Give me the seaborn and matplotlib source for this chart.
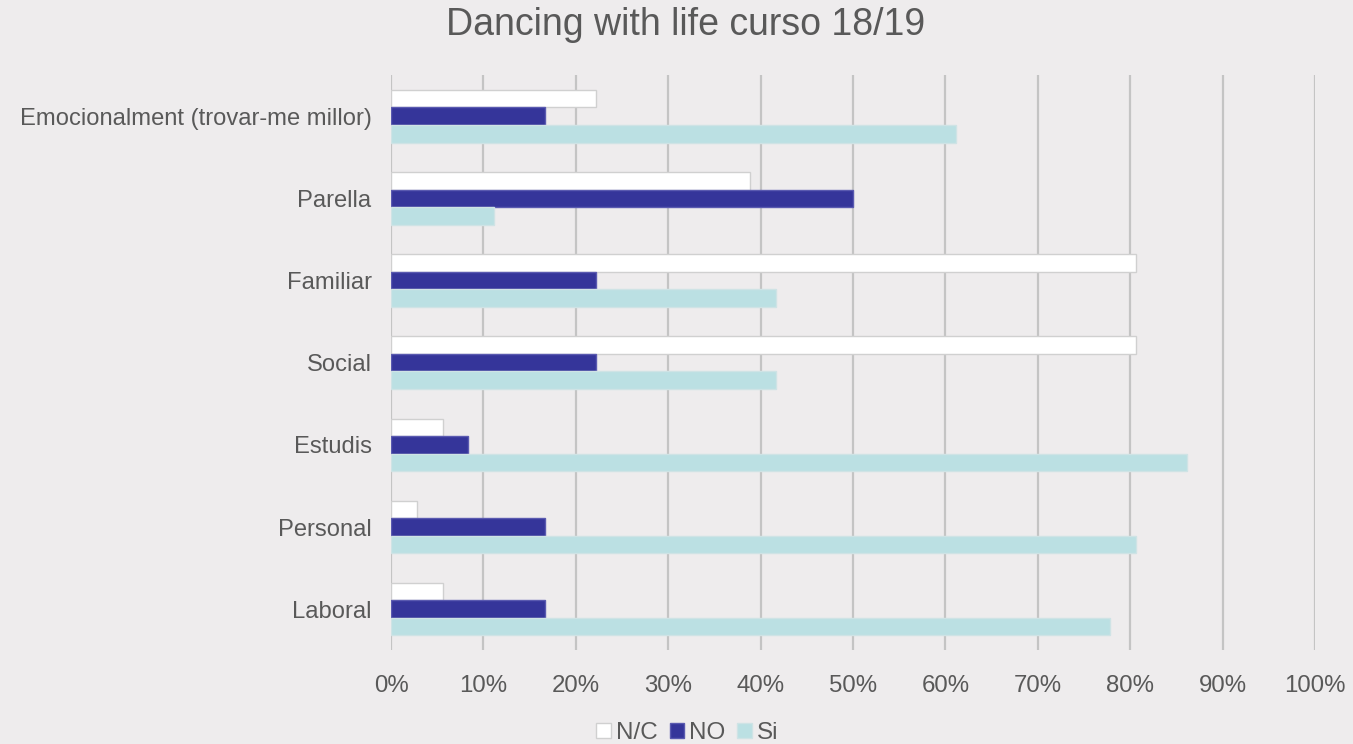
import matplotlib
matplotlib.use("Agg")
import matplotlib.pyplot as plt
import seaborn as sns
import pandas as pd
from matplotlib.patches import Patch
from matplotlib.ticker import PercentFormatter

categories = ["Emocionalment (trovar-me millor)", "Parella", "Familiar", "Social",
              "Estudis", "Personal", "Laboral"]
nc_values = [22.2, 38.9, 80.6, 80.6, 5.6, 2.8, 5.6]
no_values = [16.7, 50.0, 22.2, 22.2, 8.3, 16.7, 16.7]
si_values = [61.1, 11.1, 41.7, 41.7, 86.1, 80.6, 77.8]
series = ["N/C", "NO", "Si"]
colors = ["#FFFFFF", "#35359A", "#BBE0E3"]
edges = ["#D0D0D0", "#5A5AB0", "#CFE3E5"]

rows = []
for c, a, b, s in zip(categories, nc_values, no_values, si_values):
    rows.append((c, "N/C", a))
    rows.append((c, "NO", b))
    rows.append((c, "Si", s))
df = pd.DataFrame(rows, columns=["cat", "series", "value"])

sns.set_style("white")
plt.rcParams["font.family"] = ["Liberation Sans", "DejaVu Sans"]
bg = "#EEECED"
fig = plt.figure(figsize=(13.53, 7.44), dpi=100, facecolor=bg)
ax = fig.add_axes([0.289, 0.126, 0.683, 0.773], facecolor=bg)

sns.barplot(data=df, y="cat", x="value", hue="series", order=categories,
            hue_order=series, palette=colors, orient="h", width=0.64,
            ax=ax, legend=False, saturation=1)

for i, cont in enumerate(ax.containers):
    for p in cont:
        p.set_edgecolor(edges[i])
        p.set_linewidth(1.0)

ax.set_xlim(0, 100)
ax.set_ylim(len(categories) - 0.5, -0.5)
ax.set_xticks(range(0, 101, 10))
ax.xaxis.set_major_formatter(PercentFormatter(decimals=0))
ax.grid(axis="x", color="#C4C4C4", linewidth=1.6)
ax.grid(axis="y", visible=False)
ax.set_axisbelow(True)
for sp in ax.spines.values():
    sp.set_visible(False)
ax.set_xlabel("")
ax.set_ylabel("")
ax.tick_params(axis="both", length=0, labelsize=17.3, labelcolor="#595959")
ax.tick_params(axis="x", pad=18)
ax.tick_params(axis="y", labelsize=17.1, pad=14)

fig.suptitle("Dancing with life curso 18/19", x=0.507, y=0.99, fontsize=27,
             color="#595959")

handles = [Patch(facecolor=c, edgecolor=e, label=s) for c, e, s in zip(colors, edges, series)]
fig.legend(handles=handles, loc="center", bbox_to_anchor=(0.508, 0.015), ncol=3,
           frameon=False, fontsize=17.5, labelcolor="#595959", handlelength=0.6,
           handleheight=0.6, handletextpad=0.2, columnspacing=0.5)

fig.savefig("out.png", dpi=100, facecolor=bg)
